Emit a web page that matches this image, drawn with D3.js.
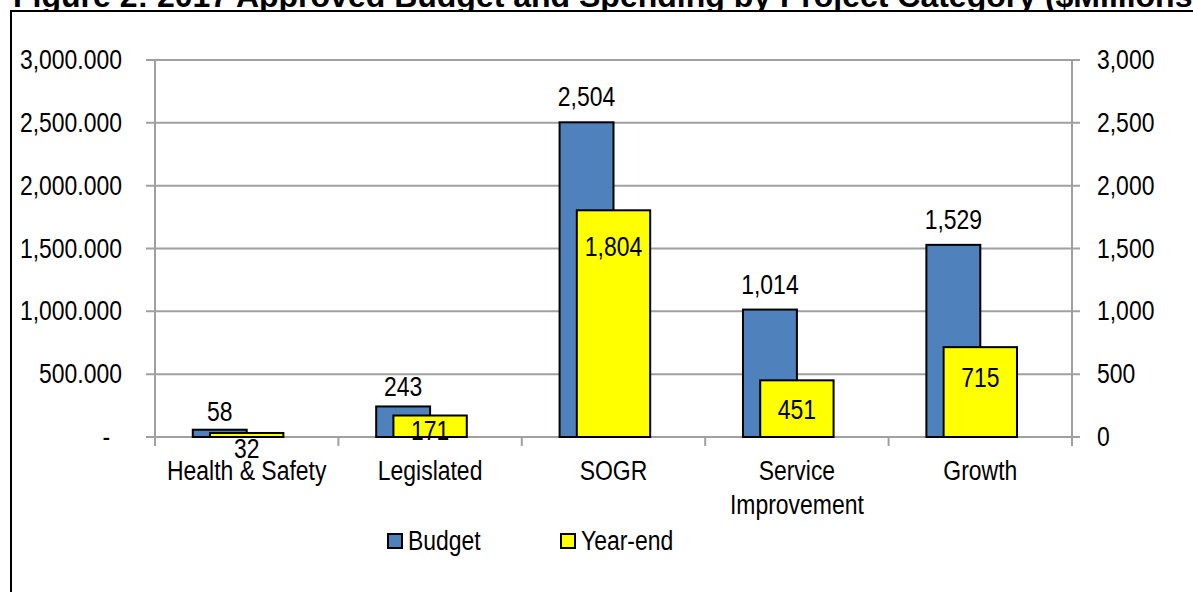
<!DOCTYPE html>
<html>
<head>
<meta charset="utf-8">
<script src="https://cdn.jsdelivr.net/npm/d3@7/dist/d3.min.js"></script>
<style>
  body { margin: 0; background: #fff; }
  svg { display: block; }
  .narrow { font-family: "Liberation Sans", Arial, sans-serif; }
</style>
</head>
<body>
<div id="chart"></div>
<script>
// Chart data
const categories = ["Health & Safety", "Legislated", "SOGR", "Service Improvement", "Growth"];
const budget = [58, 243, 2504, 1014, 1529];
const yearEnd = [32, 171, 1804, 451, 715];
const yTicks = [0, 500, 1000, 1500, 2000, 2500, 3000];
const seriesNames = ["Budget", "Year-end"];
const title = "Figure 2: 2017 Approved Budget and Spending by Project Category ($Millions)";

const W = 1193, H = 592;
const BLUE = "#4f81bd", YELLOW = "#ffff00", GRID = "#a0a0a0";
const FS = 27;
const SQUEEZE = 0.85; // no Arial Narrow installed, so squeeze Liberation Sans

// squeeze text horizontally, keeping its anchor point where it was
function condense(sel) {
    sel.each(function() {
        const t = d3.select(this);
        const xv = +t.attr("x") || 0;
        t.attr("x", xv / SQUEEZE).attr("transform", `scale(${SQUEEZE},1)`);
        t.selectAll("tspan").each(function() {
            const s = d3.select(this);
            if (s.attr("x") !== null) s.attr("x", +s.attr("x") / SQUEEZE);
        });
    });
}

const svg = d3.select("#chart").append("svg")
    .attr("width", W)
    .attr("height", H)
    .style("background", "#fff");

// title (cropped at the top in the original)
svg.append("text")
    .attr("x", 13)
    .attr("y", 7)
    .style("font-family", "'Liberation Sans', Arial, sans-serif")
    .style("font-weight", "bold")
    .style("font-size", "32px")
    .text(title);

// frame, runs off right and bottom edges
svg.append("rect")
    .attr("x", 11).attr("y", 11)
    .attr("width", 1400).attr("height", 800)
    .attr("fill", "#fff")
    .attr("stroke", "#000")
    .attr("stroke-width", 2);

const plot = { left: 155, right: 1072, top: 60, bottom: 437 };

const x = d3.scaleBand()
    .domain(categories)
    .range([plot.left, plot.right])
    .paddingInner(0)
    .paddingOuter(0);

const y = d3.scaleLinear()
    .domain([0, 3000])
    .range([plot.bottom, plot.top]);

// gridlines
svg.append("g")
    .selectAll("line")
    .data(yTicks)
    .join("line")
    .attr("x1", plot.left - 9)
    .attr("x2", plot.right + 8)
    .attr("y1", d => y(d))
    .attr("y2", d => y(d))
    .attr("stroke", GRID)
    .attr("stroke-width", 2);

// left axis
const leftAxis = svg.append("g")
    .attr("class", "narrow")
    .attr("transform", `translate(${plot.left},0)`)
    .call(d3.axisLeft(y)
        .tickValues(yTicks)
        .tickSize(0)
        .tickPadding(33)
        .tickFormat(d => d === 0 ? "-" : d3.format(",.3f")(d)));
leftAxis.select(".domain").remove();
leftAxis.selectAll("text")
    .style("font-size", FS + "px")
    .attr("fill", "#000")
    .attr("dx", d => d === 0 ? -14 : 0)
    .call(condense);

// right axis
const rightAxis = svg.append("g")
    .attr("class", "narrow")
    .attr("transform", `translate(${plot.right},0)`)
    .call(d3.axisRight(y)
        .tickValues(yTicks)
        .tickSize(0)
        .tickPadding(25)
        .tickFormat(d3.format(",")));
rightAxis.select(".domain").remove();
rightAxis.selectAll("text")
    .style("font-size", FS + "px")
    .attr("fill", "#000")
    .call(condense);

// vertical axis lines
[plot.left, plot.right].forEach(px => {
    svg.append("line")
        .attr("x1", px).attr("x2", px)
        .attr("y1", plot.top - 1).attr("y2", plot.bottom + 9)
        .attr("stroke", GRID)
        .attr("stroke-width", 2);
});

// category tick marks at band boundaries
const bounds = categories.map(c => x(c)).concat([plot.right]);
svg.append("g")
    .selectAll("line")
    .data(bounds)
    .join("line")
    .attr("x1", d => d).attr("x2", d => d)
    .attr("y1", plot.bottom).attr("y2", plot.bottom + 9)
    .attr("stroke", GRID)
    .attr("stroke-width", 2);

// bars
const bw = x.bandwidth();
const budgetW = bw * 0.294;
const yearW = bw * 0.40;
const center = c => x(c) + bw / 2;

svg.append("g")
    .selectAll("rect")
    .data(categories)
    .join("rect")
    .attr("x", (c) => center(c) - budgetW)
    .attr("y", (c, i) => y(budget[i]))
    .attr("width", budgetW)
    .attr("height", (c, i) => y(0) - y(budget[i]))
    .attr("fill", BLUE)
    .attr("stroke", "#000")
    .attr("stroke-width", 2);

svg.append("g")
    .selectAll("rect")
    .data(categories)
    .join("rect")
    .attr("x", c => center(c) - yearW / 2)
    .attr("y", (c, i) => y(yearEnd[i]))
    .attr("width", yearW)
    .attr("height", (c, i) => y(0) - y(yearEnd[i]))
    .attr("fill", YELLOW)
    .attr("stroke", "#000")
    .attr("stroke-width", 2);

// value labels
const fmt = d3.format(",");
svg.append("g")
    .attr("class", "narrow")
    .selectAll("text")
    .data(categories)
    .join("text")
    .attr("x", c => center(c) - budgetW / 2)
    .attr("y", (c, i) => y(budget[i]) - Math.min(16, 8 + budget[i] * 0.009))
    .attr("text-anchor", "middle")
    .style("font-size", FS + "px")
    .text((c, i) => fmt(budget[i]))
    .call(condense);

svg.append("g")
    .attr("class", "narrow")
    .selectAll("text")
    .data(categories)
    .join("text")
    .attr("x", c => center(c))
    .attr("y", (c, i) => {
        const top = y(yearEnd[i]);
        const off = 36 + yearEnd[i] * 0.0055;
        return top + off > y(0) ? top + 25 : top + off;
    })
    .attr("text-anchor", "middle")
    .style("font-size", FS + "px")
    .text((c, i) => fmt(yearEnd[i]))
    .call(condense);

// category labels (long one wraps onto two lines)
const catG = svg.append("g").attr("class", "narrow");
categories.forEach(c => {
    const lines = c === "Service Improvement" ? ["Service", "Improvement"] : [c];
    const t = catG.append("text")
        .attr("x", center(c))
        .attr("y", 480)
        .attr("text-anchor", "middle")
        .style("font-size", FS + "px");
    lines.forEach((ln, k) => {
        t.append("tspan")
            .attr("x", center(c))
            .attr("dy", k === 0 ? 0 : 34)
            .text(ln);
    });
    t.call(condense);
});

// legend
const legendX = [388, 561];
const legendColors = [BLUE, YELLOW];
const legend = svg.append("g").attr("class", "narrow");
seriesNames.forEach((name, i) => {
    legend.append("rect")
        .attr("x", legendX[i]).attr("y", 534)
        .attr("width", 14).attr("height", 14)
        .attr("fill", legendColors[i])
        .attr("stroke", "#000")
        .attr("stroke-width", 2);
    legend.append("text")
        .attr("x", legendX[i] + 20)
        .attr("y", 550)
        .style("font-size", FS + "px")
        .text(name)
        .call(condense);
});
</script>
</body>
</html>
